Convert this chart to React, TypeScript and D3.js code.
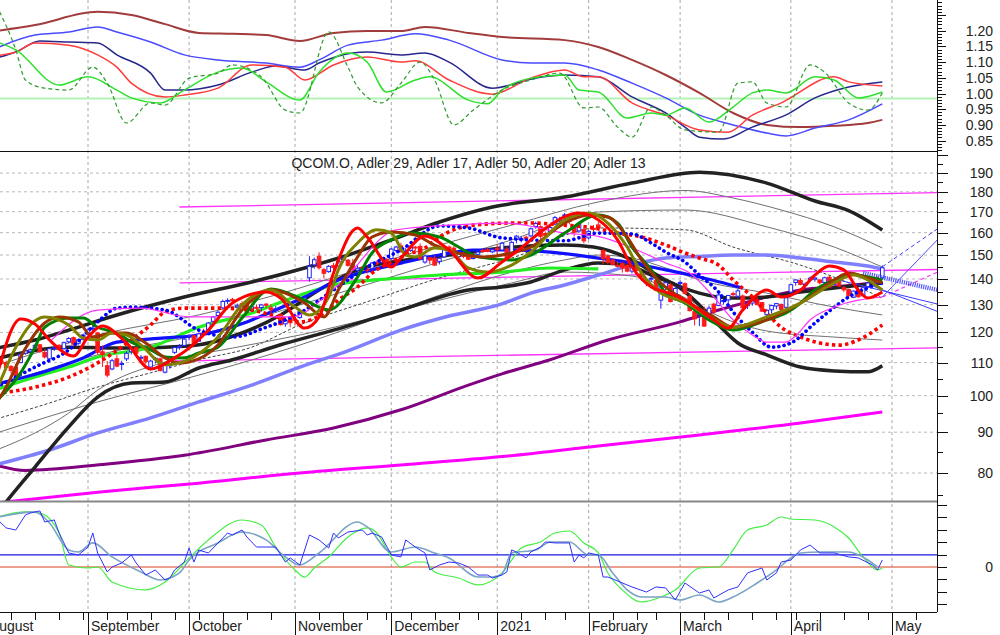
import React from 'react';
import * as d3 from 'd3';

type P = [number, number];

// ---------- calendar ----------
const CAL_START = '2020-08-03';
const CAL_END = '2021-05-25';
const HOLIDAYS = ['2020-09-07', '2020-11-26', '2020-12-25', '2021-01-01', '2021-01-18', '2021-02-15', '2021-04-02'];
const TITLE = 'QCOM.O, Adler 29, Adler 17, Adler 50, Adler 20, Adler 13';

// ---------- ticks ----------
const TOP_LABELS = [0.85, 0.9, 0.95, 1.0, 1.05, 1.1, 1.15, 1.2];
const MAIN_LABELS = [80, 90, 100, 110, 120, 130, 140, 150, 160, 170, 180, 190];
const BOT_TICKS = [-3, -2, -1, 0, 1, 2, 3, 4, 5];
const BOT_LABELS = [0];

// ---------- candles (trading-day index from CANDLE_START), [open, high, low, close] ----------
const CANDLE_START = 2;
const CANDLES: [number, number, number, number][] = [
  [109.2, 110.9, 108.5, 110.2], [110.5, 111.5, 109.3, 109.9], [110.0, 110.6, 107.6, 108.5], [108.8, 109.2, 106.6, 107.5],
  [108.5, 109.6, 105.7, 106.0], [110.0, 113.2, 109.8, 112.7], [113.0, 114.8, 112.5, 113.8], [113.5, 114.6, 112.9, 114.1],
  [114.8, 116.2, 114.2, 115.6], [115.8, 116.0, 113.2, 113.5], [113.3, 114.3, 111.3, 111.8], [111.2, 114.8, 110.9, 114.5],
  [114.6, 115.6, 113.8, 114.9], [115.6, 116.0, 113.9, 114.3], [114.5, 116.9, 114.2, 116.5], [116.8, 118.4, 116.3, 117.9],
  [118.2, 118.6, 115.5, 116.0], [116.3, 117.9, 115.8, 117.5], [117.6, 119.6, 117.2, 119.1], [119.5, 121.6, 118.9, 120.9],
  [121.2, 122.3, 119.8, 121.5], [119.8, 120.2, 112.5, 113.3], [113.5, 115.6, 108.6, 112.6], [109.0, 110.5, 105.4, 106.1],
  [108.0, 111.2, 107.6, 110.6], [111.2, 112.4, 108.5, 108.9], [109.6, 110.6, 107.6, 109.7], [111.2, 113.6, 110.5, 113.0],
  [113.5, 115.1, 112.6, 114.5], [114.8, 115.3, 112.8, 113.0], [111.4, 112.4, 110.3, 111.7], [112.0, 112.3, 109.6, 110.3],
  [108.6, 110.9, 107.5, 110.5], [111.0, 111.8, 109.7, 111.4], [111.2, 111.6, 107.2, 107.5], [107.0, 110.2, 106.6, 109.1],
  [109.0, 111.8, 108.1, 111.6], [113.3, 115.3, 112.8, 114.9], [115.0, 116.0, 114.2, 115.3], [115.6, 118.2, 115.2, 117.7],
  [118.6, 119.4, 117.3, 118.9], [118.8, 119.3, 115.6, 116.2], [117.0, 119.7, 116.9, 119.5], [119.8, 121.3, 118.8, 119.3],
  [120.6, 123.6, 120.4, 123.3], [123.9, 125.9, 123.3, 125.5], [126.0, 127.6, 125.4, 127.2], [128.8, 131.9, 128.3, 131.2],
  [131.4, 132.4, 130.2, 131.6], [132.0, 132.6, 130.6, 131.4], [129.0, 130.4, 128.0, 129.5], [130.4, 131.3, 129.0, 129.3],
  [129.8, 130.4, 126.8, 127.2], [127.8, 129.8, 127.4, 129.2], [129.0, 130.1, 128.0, 128.7], [128.9, 130.3, 127.4, 129.9],
  [130.2, 130.6, 128.8, 129.8], [128.8, 130.1, 126.4, 128.1], [128.4, 129.5, 127.2, 128.5], [126.3, 126.9, 122.4, 122.7],
  [123.0, 124.6, 122.0, 124.2], [125.4, 125.8, 121.8, 123.4], [124.6, 125.8, 122.7, 124.4], [125.3, 128.5, 124.8, 127.6],
  [131.6, 133.4, 130.5, 132.5], [140.5, 149.5, 138.9, 145.2], [145.8, 148.9, 144.2, 148.0], [149.5, 151.2, 143.8, 144.6],
  [143.8, 144.6, 140.2, 142.3], [143.0, 145.7, 142.5, 145.2], [145.5, 146.6, 143.6, 144.7], [145.3, 147.8, 144.6, 147.3],
  [147.8, 149.6, 146.8, 148.4], [147.8, 148.3, 145.1, 145.6], [146.5, 148.3, 143.7, 143.9], [143.6, 145.6, 142.8, 144.4],
  [144.8, 145.3, 143.2, 143.7], [144.0, 145.0, 142.2, 143.9], [144.4, 146.9, 143.3, 146.6], [146.9, 147.7, 145.6, 146.3],
  [146.8, 148.9, 146.4, 148.5], [148.2, 148.6, 145.2, 147.2], [148.5, 153.1, 148.1, 152.6], [152.0, 154.1, 151.2, 153.5],
  [154.0, 155.4, 151.1, 151.5], [151.8, 153.0, 150.6, 151.8], [152.0, 154.4, 151.4, 153.9], [153.5, 154.0, 151.8, 153.1],
  [153.8, 155.1, 147.8, 148.4], [147.0, 150.3, 146.3, 149.6], [148.8, 149.2, 146.1, 147.8], [148.6, 149.8, 145.4, 145.7],
  [147.3, 148.9, 146.0, 148.6], [149.2, 153.3, 148.8, 152.9], [153.5, 154.2, 151.9, 152.5], [153.0, 153.9, 150.5, 151.6],
  [149.3, 151.0, 147.2, 150.5], [150.8, 151.3, 148.6, 149.4], [149.8, 150.6, 147.9, 148.2], [148.5, 149.6, 148.1, 149.1],
  [150.3, 152.0, 149.7, 151.3], [152.0, 152.8, 150.9, 151.9], [152.3, 153.1, 151.2, 151.6], [151.4, 152.6, 150.8, 152.3],
  [153.0, 154.7, 149.9, 152.4], [152.2, 155.8, 151.8, 155.2], [152.6, 153.4, 147.8, 148.6], [150.5, 156.1, 150.2, 155.6],
  [156.9, 158.9, 155.2, 158.4], [156.7, 158.3, 155.6, 157.2], [157.9, 158.6, 155.9, 157.6], [158.5, 162.4, 157.8, 161.8],
  [162.9, 165.1, 161.8, 164.3], [162.8, 163.4, 157.2, 158.3], [159.6, 160.6, 157.4, 158.8], [160.4, 163.2, 159.6, 162.4],
  [164.0, 167.9, 163.5, 167.1], [166.2, 167.5, 164.4, 166.4], [168.0, 169.3, 163.8, 168.4], [167.5, 167.9, 163.9, 165.3],
  [162.8, 163.2, 158.3, 160.2], [160.8, 165.2, 159.9, 164.1], [161.5, 162.0, 155.1, 156.3], [157.6, 161.2, 156.8, 160.6],
  [162.0, 163.5, 160.3, 161.5], [163.6, 165.0, 161.4, 162.3], [152.0, 152.4, 146.2, 148.5], [149.5, 150.0, 146.1, 146.9],
  [147.8, 148.5, 145.6, 146.1], [145.6, 147.3, 144.8, 145.3], [146.3, 147.2, 142.6, 144.5], [145.5, 146.2, 142.7, 143.2],
  [143.2, 145.3, 142.2, 145.0], [145.8, 146.7, 142.9, 143.6], [142.2, 143.0, 139.3, 140.8], [139.5, 140.5, 137.1, 138.7],
  [140.0, 141.2, 139.0, 140.3], [139.4, 139.9, 135.1, 135.5], [131.7, 137.9, 128.5, 137.3], [137.0, 138.9, 135.5, 138.5],
  [137.6, 138.4, 130.8, 131.2], [133.4, 137.2, 131.6, 136.2], [138.3, 139.5, 136.3, 138.6], [138.1, 138.6, 133.9, 134.3],
  [133.2, 133.9, 127.4, 127.8], [127.4, 130.0, 122.4, 124.8], [126.3, 128.0, 122.2, 127.5], [127.5, 129.3, 122.0, 122.2],
  [125.3, 129.6, 124.8, 128.7], [130.2, 130.7, 126.4, 127.3], [129.7, 134.1, 129.4, 133.7], [131.4, 132.0, 130.0, 131.6],
  [131.8, 133.7, 130.5, 133.5], [134.2, 135.0, 132.7, 134.1], [133.2, 136.0, 132.3, 135.3], [133.3, 133.9, 128.6, 128.8],
  [129.6, 131.1, 128.4, 130.4], [130.6, 131.8, 129.6, 131.4], [131.7, 133.0, 129.8, 130.0], [130.8, 131.1, 127.4, 127.6],
  [126.3, 128.4, 124.9, 127.9], [128.1, 130.0, 126.7, 129.7], [129.5, 130.6, 128.3, 130.4], [130.1, 130.4, 127.6, 128.2],
  [129.0, 133.4, 128.9, 132.6], [134.8, 138.0, 134.3, 137.7], [138.6, 139.9, 137.3, 139.6], [139.4, 140.3, 137.5, 137.8],
  [137.5, 138.6, 136.5, 138.0], [139.6, 141.0, 138.8, 140.3], [139.9, 140.7, 138.9, 140.4], [139.6, 139.9, 137.8, 138.5],
  [138.6, 140.9, 138.3, 140.5], [140.7, 141.3, 136.6, 136.8], [137.8, 139.1, 137.4, 138.7], [139.1, 139.4, 136.8, 137.2],
  [136.5, 137.2, 134.9, 135.7], [135.8, 136.1, 132.6, 133.4], [132.8, 135.4, 132.5, 135.2], [135.5, 136.5, 132.6, 133.0],
  [133.4, 136.9, 133.2, 136.5], [137.0, 138.8, 136.4, 138.4], [138.8, 140.2, 138.2, 139.8], [140.2, 141.0, 138.0, 138.5],
  [140.5, 145.6, 139.8, 144.6],
];

// ---------- main panel indicator lines: [trading-day index, price] ----------
const ADLER_RED: P[] = [[2,105.5],[7,124.7],[10,122.9],[13,117.4],[18,112.1],[21,118.4],[24,122.2],[29,116.4],[34,108.0],[39,111.5],[42,114.7],[46,120.8],[51,130.6],[58,134.8],[61,132.5],[66,121.5],[69,125.5],[72,142.4],[77,162.2],[79,158.0],[84,144.9],[86,148.7],[91,158.5],[96,152.2],[102,140.4],[107,147.0],[111,153.1],[115,160.3],[123,169.3],[127,166.0],[131,156.7],[134,144.9],[138,136.8],[141,134.8],[145,131.7],[151,124.4],[154,121.5],[157,128.0],[162,135.6],[165,132.9],[169,135.6],[172,141.6],[175,145.3],[178,143.7],[181,135.6],[183,132.5],[186,134.8]];
const ADLER_OLIVE: P[] = [[2,101.5],[6,115.0],[9,122.6],[12,125.5],[17,122.6],[20,118.1],[23,117.4],[26,119.8],[29,119.1],[32,115.7],[37,109.3],[40,109.9],[43,111.8],[48,118.4],[53,129.9],[59,135.6],[64,129.1],[67,126.2],[71,132.9],[73,143.7],[77,155.3],[81,161.3],[84,159.8],[87,150.0],[89,149.2],[93,153.1],[96,152.2],[100,144.5],[104,142.8],[109,145.7],[113,151.3],[120,165.9],[125,169.3],[129,164.5],[133,153.5],[136,142.4],[140,134.4],[145,131.0],[150,125.5],[155,121.8],[162,125.5],[169,130.6],[176,138.4],[180,141.6],[183,139.6],[186,135.6]];
const ADLER_BROWN: P[] = [[2,98.0],[4,102.5],[7,111.8],[12,123.3],[15,125.5],[19,123.7],[22,118.4],[26,119.8],[29,119.8],[33,116.4],[37,111.5],[40,109.9],[42,110.2],[48,115.7],[53,128.0],[59,135.6],[66,130.6],[70,125.5],[73,135.6],[77,149.2],[80,158.0],[84,160.3],[89,158.9],[93,154.4],[97,151.3],[103,149.2],[109,150.9],[113,153.5],[120,164.5],[125,168.3],[129,167.4],[133,158.0],[136,147.9],[140,138.4],[145,131.7],[151,125.5],[155,121.8],[162,124.4],[169,130.6],[176,139.6],[179,142.4],[183,140.4],[186,138.4]];
const ADLER_GREEN: P[] = [[2,98.5],[7,106.8],[10,115.0],[12,121.8],[17,125.1],[20,125.1],[23,121.8],[27,119.8],[30,116.7],[34,114.1],[37,111.8],[41,111.5],[44,113.1],[48,115.0],[53,125.1],[59,136.0],[66,131.7],[71,128.0],[77,140.8],[80,150.9],[84,156.7],[88,159.8],[94,158.0],[98,153.5],[102,149.2],[109,147.9],[113,150.0],[120,159.8],[127,168.3],[131,164.5],[134,153.5],[138,143.7],[141,134.4],[145,130.6],[150,124.4],[155,120.8],[162,124.4],[166,126.9],[169,130.6],[172,135.6],[176,139.6],[179,142.0],[183,140.8],[186,139.6]];
const BLUE_DOTS: P[] = [[2,102.5],[10,108.6],[17,114.1],[23,123.7],[27,128.7],[30,129.1],[37,128.0],[44,120.8],[51,118.4],[58,121.8],[65,126.9],[72,135.6],[79,144.9],[86,152.2],[94,163.1],[100,162.2],[107,157.6],[120,156.3],[127,159.8],[134,159.4],[138,155.3],[141,151.3],[145,147.0],[148,141.6],[152,134.8],[155,127.3],[159,120.1],[163,115.0],[167,116.4],[172,123.3],[179,132.9],[186,138.4]];
const RED_DOTS: P[] = [[2,100.6],[10,102.5],[17,105.5],[23,109.9],[30,117.4],[34,122.6],[37,127.3],[41,128.7],[48,128.7],[55,128.0],[61,125.1],[65,123.7],[70,126.9],[73,131.7],[77,136.8],[80,142.4],[84,147.0],[87,150.0],[91,153.1],[94,158.0],[101,163.5],[109,164.5],[113,164.5],[120,163.5],[126,162.2],[131,159.8],[136,158.0],[141,154.4],[145,150.9],[148,148.7],[152,145.7],[155,139.6],[159,132.9],[162,126.9],[165,121.8],[169,118.4],[173,116.4],[177,115.7],[181,117.4],[186,122.6]];
const BLUE_LINE: P[] = [[2,103.4],[13,107.7],[20,111.5],[27,116.7],[37,118.1],[44,119.1],[54,123.7],[59,127.3],[66,132.9],[73,139.6],[80,143.7],[87,147.0],[94,150.0],[101,152.2],[107,152.2],[117,151.3],[127,148.7],[134,146.6],[141,143.7],[148,140.8],[157,136.4]];
const LIME_LINE: P[] = [[2,101.8],[10,105.5],[17,108.6],[23,111.8],[34,115.0],[44,121.8],[55,126.9],[65,133.6],[72,137.6],[86,140.4],[94,141.6],[107,142.8],[117,144.5],[127,144.1]];
const MAGENTA_BASE: P[] = [[2,73.4],[23,75.7],[44,77.7],[65,80.0],[86,81.9],[107,83.9],[127,86.5],[148,89.3],[169,92.4],[186,95.4]];
const PURPLE_LINE: P[] = [[2,81.8],[8,80.6],[24,82.0],[41,84.2],[58,88.0],[72,91.1],[86,96.0],[100,103.1],[107,106.5],[117,110.9],[129,117.4],[144,123.7],[152,128.0],[162,132.9],[169,135.6],[178,137.2],[186,138.8]];
const LIGHTBLUE_LINE: P[] = [[2,82.0],[13,85.5],[23,89.8],[34,93.8],[44,98.2],[55,103.1],[65,108.6],[75,113.8],[86,120.8],[96,125.8],[107,130.3],[113,134.4],[120,137.6],[127,141.6],[134,145.8],[141,148.7],[148,149.4],[155,150.0],[162,150.0],[169,148.7],[176,147.0],[183,145.3],[186,144.1]];
const BAND_UPPER: P[] = [[2,114.7],[10,117.4],[17,120.8],[27,126.2],[41,132.9],[55,138.8],[66,144.5],[75,150.0],[84,156.7],[94,165.0],[105,172.3],[120,177.3],[134,184.6],[148,190.5],[162,184.6],[172,175.3],[179,170.5],[186,161.2]];
const BAND_LOWER: P[] = [[2,71.0],[4,73.6],[10,81.4],[17,91.4],[23,99.6],[30,103.7],[37,104.0],[44,108.3],[51,110.9],[61,115.8],[72,120.8],[86,128.0],[100,135.6],[107,136.8],[113,138.8],[120,143.7],[127,146.6],[133,145.8],[138,141.6],[144,136.4],[148,129.9],[152,122.6],[156,116.4],[162,112.5],[169,108.6],[176,107.4],[183,107.1],[186,109.0]];
const BAND_MID: P[] = [[2,111.3],[17,115.0],[30,114.7],[42,115.4],[53,119.8],[61,126.2],[69,135.6],[77,143.7],[87,147.9],[98,150.4],[107,153.1],[120,154.4],[126,153.5],[134,147.9],[141,139.6],[148,134.4],[155,132.5],[162,132.9],[169,134.8],[176,136.4],[186,138.4]];
const THIN_U2: P[] = [[2,109.0],[23,119.1],[44,126.2],[65,136.4],[80,145.7],[94,154.4],[109,163.5],[127,174.8],[145,180.7],[155,176.8],[165,170.8],[176,162.7],[186,153.1]];
const THIN_U1: P[] = [[2,102.8],[23,112.5],[44,119.1],[65,129.9],[80,138.4],[94,147.0],[109,156.7],[127,169.8],[145,170.8],[162,162.7],[176,153.5],[186,144.9]];
const THIN_MID: P[] = [[2,93.5],[13,97.9],[23,102.5],[34,106.8],[44,110.9],[55,115.0],[65,122.6],[80,131.7],[94,140.4],[109,148.7],[127,162.2],[145,161.3],[155,153.5],[169,145.7],[179,138.4],[186,132.5]];
const THIN_L1: P[] = [[2,89.8],[23,98.2],[44,106.1],[65,115.7],[80,124.4],[94,133.6],[109,142.8],[120,147.9],[127,150.0],[134,148.7],[141,144.5],[148,139.6],[162,134.4],[176,129.1],[186,126.2]];
const THIN_L2: P[] = [[2,85.5],[10,89.8],[17,95.1],[23,101.6],[37,110.2],[51,114.7],[65,119.1],[80,125.1],[94,131.7],[109,138.4],[120,142.8],[134,141.2],[144,133.6],[152,125.8],[162,120.5],[176,118.4],[186,117.4]];
const MAGENTA_CURVE: P[] = [[13,116.7],[23,128.0],[32,128.7],[42,125.5],[55,125.5],[63,125.5],[73,137.6],[85,161.3],[96,163.5],[108,164.5],[120,159.8],[127,158.3],[136,151.3],[141,146.6],[146,142.4],[151,132.9],[155,124.4],[159,119.1],[162,116.7],[166,116.7],[168,118.8],[171,124.4],[176,129.1],[186,132.9]];
const MAGENTA_CURVE_EXT: P[] = [[186,132.9],[198,143.3]];
const CHANNEL_TOP: P[] = [[40,172.3],[198,179.6]];
const CHANNEL_MID: P[] = [[40,138.4],[198,143.9]];
const CHANNEL_LOW: P[] = [[39,110.5],[198,114.8]];
const PROJ_BAND: P[] = [[182,142.4],[198,135.4]];
const PROJ_DOWN_A: P[] = [[176,140.0],[198,130.0]];
const PROJ_DOWN_B: P[] = [[184,137.2],[198,127.1]];
const PROJ_UP_DASH: P[] = [[186,145.0],[198,162.6]];
const PROJ_UP: P[] = [[186,132.9],[198,158.0]];

// ---------- top panel (ratios) ----------
const TOP_BASELINE = 0.984;
const TOP_DARKRED: P[] = [[2,1.199],[10,1.218],[23,1.260],[30,1.250],[37,1.221],[44,1.193],[51,1.190],[58,1.186],[65,1.167],[72,1.193],[79,1.199],[86,1.199],[91,1.212],[100,1.193],[107,1.180],[120,1.170],[127,1.148],[134,1.107],[141,1.059],[148,1.002],[155,0.938],[162,0.900],[169,0.893],[176,0.897],[183,0.906],[186,0.916]];
const TOP_BLUE: P[] = [[2,1.145],[10,1.186],[17,1.196],[23,1.212],[27,1.196],[34,1.164],[41,1.123],[48,1.107],[58,1.097],[65,1.084],[69,1.107],[75,1.154],[82,1.170],[89,1.190],[96,1.170],[107,1.107],[113,1.097],[120,1.097],[127,1.075],[134,1.033],[141,0.986],[148,0.931],[155,0.900],[162,0.874],[166,0.865],[172,0.890],[179,0.916],[186,0.967]];
const TOP_NAVY: P[] = [[2,1.113],[6,1.132],[11,1.167],[17,1.164],[23,1.161],[27,1.123],[34,1.065],[37,1.011],[41,1.011],[48,1.027],[55,1.068],[60,1.088],[66,1.075],[69,1.097],[76,1.129],[79,1.132],[86,1.123],[91,1.129],[96,1.100],[105,1.017],[114,1.049],[120,1.059],[127,1.053],[134,0.989],[141,0.938],[145,0.893],[148,0.861],[153,0.855],[159,0.893],[166,0.932],[172,0.986],[179,1.021],[186,1.037]];
const TOP_RED: P[] = [[2,1.120],[6,1.132],[10,1.161],[17,1.154],[23,1.123],[27,1.084],[30,1.033],[37,0.989],[41,0.995],[48,1.017],[55,1.091],[62,1.084],[66,1.043],[72,1.091],[79,1.116],[86,1.100],[89,1.104],[96,1.043],[105,0.998],[113,1.049],[120,1.075],[124,1.053],[127,1.053],[134,0.970],[141,0.931],[148,0.884],[154,0.877],[159,0.931],[165,0.970],[176,1.053],[179,1.037],[186,1.024]];
const TOP_GREEN: P[] = [[2,1.165],[6,1.139],[15,1.027],[21,1.053],[27,1.011],[30,0.986],[36,0.970],[41,1.011],[48,1.068],[53,1.081],[58,1.037],[65,0.979],[69,1.068],[75,1.129],[79,1.100],[83,1.005],[89,1.043],[92,1.053],[100,0.979],[104,0.967],[107,1.011],[113,1.049],[120,1.059],[123,1.011],[127,1.005],[133,0.922],[138,0.938],[141,0.931],[145,0.954],[150,0.909],[155,0.957],[159,1.002],[162,1.011],[166,1.002],[172,1.053],[176,1.043],[181,0.986],[186,1.005]];
const TOP_DASHED: P[] = [[2,1.28],[6,1.139],[8,1.043],[12,1.017],[17,1.011],[22,1.084],[25,1.033],[29,0.906],[34,0.970],[37,0.963],[42,1.049],[48,1.065],[51,1.091],[57,1.053],[62,0.947],[65,0.938],[71,1.196],[75,1.084],[77,1.021],[82,0.970],[86,1.033],[90,1.100],[93,1.043],[97,0.900],[101,0.947],[107,1.011],[113,1.043],[119,1.065],[124,0.954],[127,0.957],[131,0.893],[134,0.861],[138,0.957],[141,0.931],[145,0.884],[152,0.877],[156,1.033],[159,1.037],[162,0.970],[166,0.957],[171,1.091],[174,1.068],[179,0.970],[183,0.947],[186,1.002]];

// ---------- bottom panel (oscillator) ----------
const BOT_SIGNAL = 0.97;
const BOT_GREEN: P[] = [[2,4.0],[8,4.44],[11,4.35],[15,2.74],[17,0.16],[21,-0.08],[23,0],[26,-1.21],[33,-1.85],[37,-1.21],[42,0.73],[46,2.18],[53,3.79],[57,3.39],[60,1.61],[64,-0.24],[66,-0.81],[68,-0.08],[71,0.81],[75,2.42],[79,3.15],[81,2.74],[84,0.81],[86,0],[89,0.40],[91,0.40],[93,-0.40],[98,-0.89],[102,-1.45],[107,-0.48],[109,0.56],[111,1.53],[115,2.02],[118,2.74],[121,2.90],[124,1.94],[127,1.13],[129,-0.48],[132,-1.85],[136,-2.82],[140,-2.42],[143,-1.85],[148,-0.08],[152,0],[155,1.37],[158,2.98],[162,3.39],[165,4.03],[167,3.87],[172,3.79],[176,3.23],[179,2.34],[182,0.81],[185,-0.24],[186,-0.08]];
const BOT_STEEL: P[] = [[2,4.0],[10,4.44],[13,3.55],[17,1.37],[19,1.21],[22,1.94],[26,0.81],[32,-0.40],[36,-1.05],[40,-0.48],[42,0.56],[48,1.94],[53,2.82],[58,2.18],[62,0.81],[65,0.16],[69,1.13],[77,3.63],[79,3.23],[84,1.21],[89,1.61],[93,1.13],[96,0.73],[102,-0.81],[105,-0.81],[107,-0.56],[109,1.13],[114,1.37],[117,2.02],[121,2.02],[125,0.97],[127,0.97],[130,-0.48],[133,-1.85],[136,-2.42],[141,-2.42],[144,-2.66],[148,-2.26],[152,-2.82],[155,-2.42],[160,-1.29],[164,-0.24],[167,0.73],[169,1.13],[173,1.21],[179,1.21],[183,0.56],[185,0]];
const BOT_BLUE: P[] = [[2,3.9],[4,3.15],[6,2.98],[8,4.19],[9,4.35],[11,4.52],[12,3.63],[14,3.79],[15,2.74],[16,1.94],[17,1.13],[19,0.97],[21,1.61],[22,2.74],[23,1.13],[25,-0.40],[26,0],[28,0.32],[30,0.97],[31,0.32],[33,-0.65],[35,-0.24],[37,-1.05],[38,-0.89],[39,-0.24],[41,0.40],[42,1.53],[43,0.40],[44,1.37],[46,1.13],[47,1.53],[50,2.74],[51,2.58],[53,2.98],[54,2.42],[56,1.61],[58,1.61],[60,1.61],[62,0.40],[63,0.73],[65,0.16],[67,2.58],[69,2.18],[71,1.53],[72,2.74],[73,2.34],[75,2.82],[78,2.98],[79,2.58],[80,2.74],[82,2.42],[84,0.97],[86,0.81],[87,2.18],[89,1.61],[91,1.13],[92,-0.24],[94,0.16],[96,0.40],[98,0.32],[100,0],[102,-0.65],[104,-0.65],[105,-0.89],[107,-0.65],[108,-0.40],[109,1.37],[110,1.21],[112,0.73],[113,1.21],[115,1.61],[116,2.02],[118,1.94],[121,1.94],[122,0.40],[123,0.97],[124,0.73],[125,1.13],[127,0.97],[128,-0.81],[129,-0.81],[132,-1.29],[134,-1.61],[137,-2.02],[139,-1.61],[141,-1.69],[143,-2.66],[145,-1.29],[148,-2.10],[150,-1.85],[151,-2.50],[154,-1.85],[156,-1.61],[158,-0.48],[161,-0.08],[162,-1.05],[164,-0.48],[165,0.40],[167,0.56],[169,1.37],[171,1.77],[173,1.13],[176,1.13],[179,0.81],[181,0.73],[184,0.16],[185,-0.24],[186,0.56]];

const FONT = '"Liberation Sans", Arial, Helvetica, sans-serif';

export default function App() {
  const parse = d3.timeParse('%Y-%m-%d');
  const fmt = d3.timeFormat('%Y-%m-%d');
  const days = d3.timeDay
    .range(parse(CAL_START) as Date, parse(CAL_END) as Date)
    .filter((d) => d.getDay() !== 0 && d.getDay() !== 6 && !HOLIDAYS.includes(fmt(d)));

  const PR = 937;
  const x = d3.scaleLinear().domain([2.72, 197.36]).range([0, PR]);
  const yTop = d3.scaleLinear().domain([0.8169, 1.2978]).range([151, 0]);
  const yMain = d3.scaleLog().domain([73.8, 201.9]).range([501, 152]);
  const yBot = d3.scaleLinear().domain([-3.63, 5.24]).range([612, 502]);

  const monthStarts: number[] = [];
  const weekStarts: number[] = [];
  days.forEach((d, i) => {
    if (i === 0 || d.getMonth() !== days[i - 1].getMonth()) monthStarts.push(i);
    if (i === 0 || +d3.timeMonday.floor(d) !== +d3.timeMonday.floor(days[i - 1])) weekStarts.push(i);
  });
  const monthName = d3.timeFormat('%B');
  const monthLabel = (i: number) => (days[i].getMonth() === 0 ? String(days[i].getFullYear()) : monthName(days[i]));

  const mk = (ys: (v: number) => number, curve: d3.CurveFactory = d3.curveMonotoneX) =>
    d3.line<P>().x((d) => x(d[0])).y((d) => ys(d[1])).curve(curve);
  const lm = mk(yMain as any);
  const lmStraight = mk(yMain as any, d3.curveLinear);
  const lt = mk(yTop);
  const lb = mk(yBot);
  const lbLin = mk(yBot, d3.curveLinear);

  const path = (d: string | null, stroke: string, w: number, extra: any = {}) => (
    <path d={d || ''} fill="none" stroke={stroke} strokeWidth={w} strokeLinejoin="round" {...extra} />
  );

  const visMonths = monthStarts.filter((i) => x(i) > 0 && x(i) < PR);

  // axis ticks
  const topTicks: number[] = d3.range(82, 130).map((v) => v / 100);
  const mainTicks: number[] = d3.range(75, 201, 5);

  const candleW = 3.6;

  return (
    <svg width={1000} height={635} style={{ position: 'absolute', left: 0, top: 0, background: '#fff' }} fontFamily={FONT}>
      <defs>
        <clipPath id="cTop"><rect x={0} y={0} width={PR} height={151} /></clipPath>
        <clipPath id="cMain"><rect x={0} y={152} width={PR} height={349} /></clipPath>
        <clipPath id="cBot"><rect x={0} y={502} width={PR} height={110} /></clipPath>
      </defs>
      <rect x={0} y={0} width={1000} height={635} fill="#fff" />

      {/* vertical month grid */}
      {visMonths.map((i) => (
        <line key={'vg' + i} x1={x(i)} x2={x(i)} y1={0} y2={612} stroke="#a8a8a8" strokeDasharray="3,3" strokeWidth={1} />
      ))}
      {/* main horizontal grid */}
      {MAIN_LABELS.map((v) => (
        <line key={'hg' + v} x1={0} x2={PR} y1={yMain(v)} y2={yMain(v)} stroke="#b8b8b8" strokeDasharray="3,3" strokeWidth={1} />
      ))}

      {/* ---------- top panel ---------- */}
      <g clipPath="url(#cTop)">
        <line x1={0} x2={PR} y1={yTop(TOP_BASELINE)} y2={yTop(TOP_BASELINE)} stroke="#b6f2b6" strokeWidth={2} />
        {path(lt(TOP_DARKRED), '#a23c3c', 2)}
        {path(lt(TOP_BLUE), '#4a4aff', 1.5)}
        {path(lt(TOP_NAVY), '#26268c', 1.5)}
        {path(lt(TOP_RED), '#ff3c3c', 1.5)}
        {path(lt(TOP_GREEN), '#2ee02e', 1.5)}
        {path(lt(TOP_DASHED), '#2f9a2f', 1.2, { strokeDasharray: '4,3' })}
      </g>

      {/* ---------- main panel ---------- */}
      <g clipPath="url(#cMain)">
        {path(lmStraight(CHANNEL_TOP), '#ff33ff', 1.3)}
        {path(lmStraight(CHANNEL_MID), '#ff33ff', 1.3)}
        {path(lmStraight(CHANNEL_LOW), '#ff33ff', 1.3)}

        {path(lm(THIN_U2), '#707070', 1)}
        {path(lm(THIN_U1), '#707070', 1)}
        {path(lm(THIN_MID), '#404040', 1, { strokeDasharray: '3,2' })}
        {path(lm(THIN_L1), '#707070', 1)}
        {path(lm(THIN_L2), '#707070', 1)}

        {path(lm(MAGENTA_BASE), '#ff00ff', 3)}
        {path(lm(PURPLE_LINE), '#800080', 3)}
        {path(lm(LIGHTBLUE_LINE), '#8080ff', 3.5)}

        {path(lm(BAND_UPPER), '#222222', 3.5)}
        {path(lm(BAND_LOWER), '#222222', 3.5)}
        {path(lm(BAND_MID), '#222222', 3.5)}

        {path(lm(LIME_LINE), '#22ee22', 3.2)}
        {path(lm(BLUE_LINE), '#1010ff', 3.2)}

        {CANDLES.map((c, i) => {
          const idx = CANDLE_START + i;
          const [o, h, l, cl] = c;
          const up = cl >= o;
          const col = up ? '#2020ff' : '#ff1a1a';
          const cx = x(idx);
          const yT = yMain(Math.max(o, cl));
          const yB = yMain(Math.min(o, cl));
          return (
            <g key={'c' + i}>
              <line x1={cx} x2={cx} y1={yMain(h)} y2={yMain(l)} stroke={col} strokeWidth={1} />
              <rect x={cx - candleW / 2} y={yT} width={candleW} height={Math.max(1, yB - yT)} fill={up ? '#ffffff' : col} stroke={col} strokeWidth={1} />
            </g>
          );
        })}

        {path(lm(RED_DOTS), '#ff0000', 3.6, { strokeDasharray: '3.4,3.2' })}
        {path(lm(BLUE_DOTS), '#0000ff', 3.6, { strokeDasharray: '0.1,5.2', strokeLinecap: 'round' })}

        {path(lm(MAGENTA_CURVE), '#ff33ff', 1.2)}
        {path(lmStraight(MAGENTA_CURVE_EXT), '#ff33ff', 1.2, { strokeDasharray: '4,3' })}

        {path(lmStraight(PROJ_BAND), '#3a3aff', 4.5, { strokeDasharray: '1.2,1', opacity: 0.85 })}
        {path(lmStraight(PROJ_DOWN_A), '#3c3cff', 1)}
        {path(lmStraight(PROJ_DOWN_B), '#3c3cff', 1)}
        {path(lmStraight(PROJ_UP_DASH), '#3c3cff', 1, { strokeDasharray: '4,3' })}
        {path(lmStraight(PROJ_UP), '#5050ff', 1)}

        {path(lm(ADLER_GREEN), '#008000', 3)}
        {path(lm(ADLER_BROWN), '#993300', 3)}
        {path(lm(ADLER_OLIVE), '#808000', 3)}
        {path(lm(ADLER_RED), '#ff0000', 3)}
      </g>
      <text x={PR / 2} y={168} textAnchor="middle" fontSize={14} fill="#222">{TITLE}</text>

      {/* ---------- bottom panel ---------- */}
      <g clipPath="url(#cBot)">
        <line x1={0} x2={PR} y1={yBot(BOT_SIGNAL)} y2={yBot(BOT_SIGNAL)} stroke="#1a1ae6" strokeWidth={1.2} />
        <line x1={0} x2={PR} y1={yBot(0)} y2={yBot(0)} stroke="#d84020" strokeWidth={1.2} />
        {path(lb(BOT_GREEN), '#44ee44', 1.2)}
        {path(lb(BOT_STEEL), '#7aa4c4', 1.6)}
        {path(lbLin(BOT_BLUE), '#3030ff', 1)}
      </g>

      {/* separators & axis lines */}
      <line x1={0} x2={PR} y1={151.5} y2={151.5} stroke="#111" strokeWidth={1} />
      <line x1={0} x2={PR} y1={501.5} y2={501.5} stroke="#888" strokeWidth={2} />
      <line x1={0} x2={PR} y1={612.5} y2={612.5} stroke="#111" strokeWidth={1} />
      <line x1={PR + 0.5} x2={PR + 0.5} y1={0} y2={612} stroke="#111" strokeWidth={1} />

      {/* right axis: top */}
      {topTicks.map((v) => {
        const major = Math.round(v * 100) % 5 === 0;
        return <line key={'tt' + v} x1={PR} x2={PR + (major ? 9 : 5)} y1={Math.round(yTop(v)) + 0.5} y2={Math.round(yTop(v)) + 0.5} stroke="#111" strokeWidth={1} />;
      })}
      {TOP_LABELS.map((v) => (
        <text key={'tl' + v} x={993} y={yTop(v) + 5} textAnchor="end" fontSize={14} fill="#222">{v.toFixed(2)}</text>
      ))}
      {/* right axis: main */}
      {mainTicks.map((v) => {
        const major = v % 10 === 0;
        const yy = yMain(v);
        if (yy < 152 || yy > 501) return null;
        return <line key={'mt' + v} x1={PR} x2={PR + (major ? 11 : 6)} y1={Math.round(yy) + 0.5} y2={Math.round(yy) + 0.5} stroke="#111" strokeWidth={1} />;
      })}
      {MAIN_LABELS.map((v) => (
        <text key={'ml' + v} x={993} y={yMain(v) + 5} textAnchor="end" fontSize={14} fill="#222">{v}</text>
      ))}
      {/* right axis: bottom */}
      {BOT_TICKS.map((v) => (
        <line key={'bt' + v} x1={PR} x2={PR + 10} y1={Math.round(yBot(v)) + 0.5} y2={Math.round(yBot(v)) + 0.5} stroke="#111" strokeWidth={1} />
      ))}
      {BOT_LABELS.map((v) => (
        <text key={'bl' + v} x={993} y={yBot(v) + 5} textAnchor="end" fontSize={14} fill="#222">{v}</text>
      ))}

      {/* bottom time axis */}
      {weekStarts.filter((i) => x(i) > 0 && x(i) < PR).map((i) => (
        <line key={'wk' + i} x1={Math.round(x(i)) + 0.5} x2={Math.round(x(i)) + 0.5} y1={612} y2={620} stroke="#111" strokeWidth={1} />
      ))}
      {visMonths.map((i) => (
        <line key={'mk' + i} x1={Math.round(x(i)) + 0.5} x2={Math.round(x(i)) + 0.5} y1={612} y2={635} stroke="#111" strokeWidth={1} />
      ))}
      {monthStarts.filter((i) => x(i) < PR).map((i) => (
        <text key={'mlab' + i} x={x(i) + 3} y={631} fontSize={14} fill="#222">{monthLabel(i)}</text>
      ))}
    </svg>
  );
}
